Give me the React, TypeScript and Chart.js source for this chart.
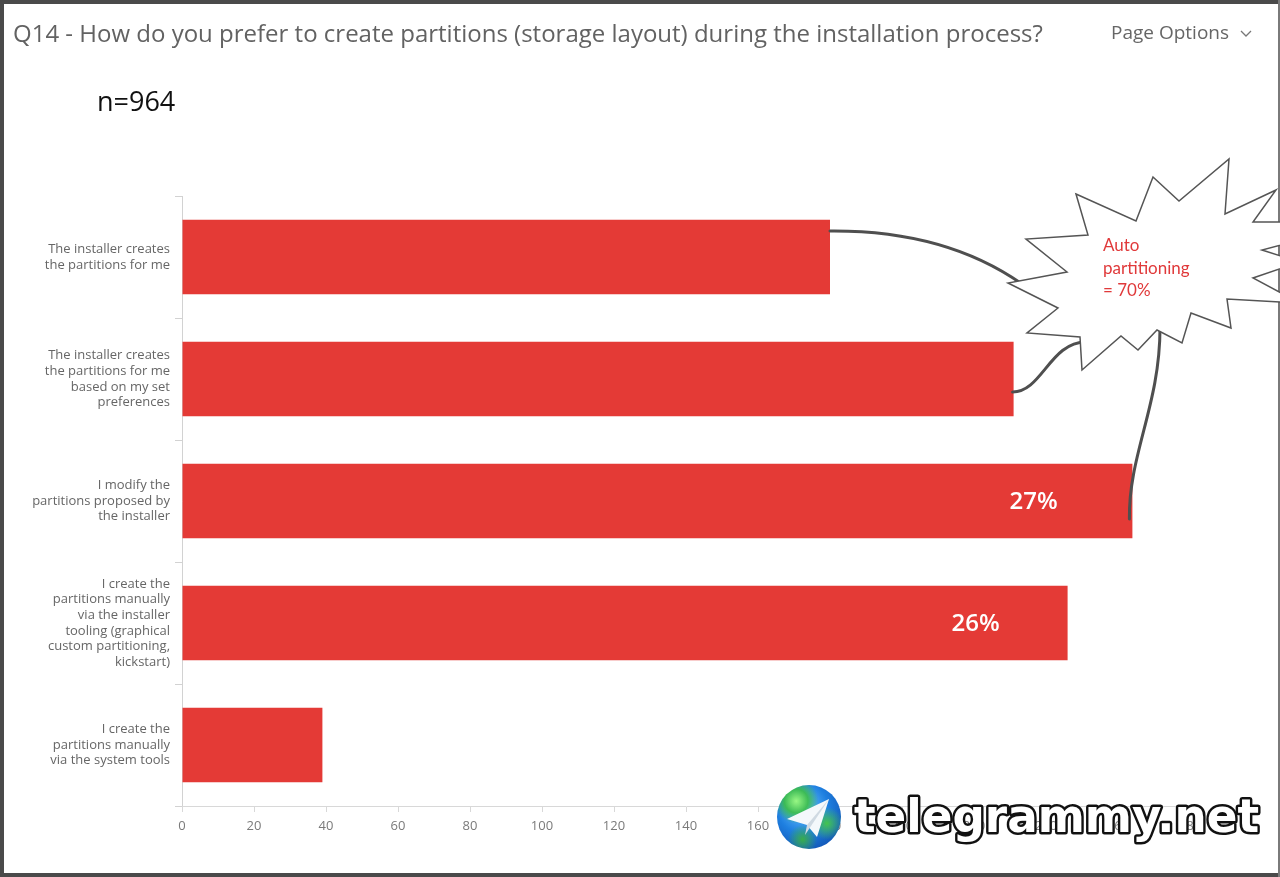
import React, { useEffect, useRef } from "react";
import { Chart, registerables } from "chart.js";

Chart.register(...registerables);

// ---- data ----
const categories: string[][] = [
  ["The installer creates", "the partitions for me"],
  ["The installer creates", "the partitions for me", "based on my set", "preferences"],
  ["I modify the", "partitions proposed by", "the installer"],
  ["I create the", "partitions manually", "via the installer", "tooling (graphical", "custom partitioning,", "kickstart)"],
  ["I create the", "partitions manually", "via the system tools"],
];
const responseCounts: number[] = [180, 231, 264, 246, 39];
const barPercentLabels: string[] = ["", "", "27%", "26%", ""];
const xAxisMax = 280;
const xAxisStep = 20;
const titleText = "Q14 - How do you prefer to create partitions (storage layout) during the installation process?";
const sampleSizeText = "n=964";
const calloutLines: string[] = ["Auto", "partitioning", "= 70%"];
const pageOptionsText = "Page Options";
const watermarkText = "telegrammy.net";

// ---- decoration geometry (annotation, not data) ----
const starOutline: [number, number][] = [
  [1076, 194], [1136, 221], [1153, 177], [1179, 201], [1229, 159], [1225, 214],
  [1276, 190], [1253, 222], [1300, 222], [1300, 240], [1262, 250], [1300, 262],
  [1253, 278], [1300, 303], [1227, 299], [1231, 328], [1191, 313], [1182, 343],
  [1157, 330], [1138, 350], [1121, 336], [1082, 370], [1080, 337], [1027, 333],
  [1058, 308], [1008, 283], [1067, 272], [1026, 239], [1088, 235],
];

const overlayPlugin = {
  id: "overlayPlugin",
  afterDraw(chart: any) {
    const ctx: CanvasRenderingContext2D = chart.ctx;
    const meta = chart.getDatasetMeta(0);
    const bars = meta.data.map((b: any) => b.getProps(["x", "y", "base"], true));

    ctx.save();
    // percentage labels inside bars
    ctx.fillStyle = "#ffffff";
    ctx.font = '600 24px "Open Sans"';
    ctx.textAlign = "center";
    ctx.textBaseline = "middle";
    bars.forEach((b: any, i: number) => {
      const t = barPercentLabels[i];
      if (!t) return;
      ctx.fillText(t, b.base + (b.x - b.base) * 0.896, b.y + 1);
    });

    // connector curves
    ctx.strokeStyle = "#4f4f4f";
    ctx.lineWidth = 3;
    ctx.lineCap = "round";
    const b0 = bars[0], b1 = bars[1], b2 = bars[2];
    ctx.beginPath();
    ctx.moveTo(b0.x, b0.y - 26);
    ctx.quadraticCurveTo(945, b0.y - 27, 1022, 284);
    ctx.stroke();

    ctx.beginPath();
    ctx.moveTo(b1.x - 1, b1.y + 13);
    ctx.bezierCurveTo(1042, b1.y + 13, 1050, 342, 1086, 342);
    ctx.stroke();

    ctx.beginPath();
    ctx.moveTo(b2.x - 3, b2.y + 18);
    ctx.bezierCurveTo(b2.x - 4, 455, 1160, 405, 1160, 328);
    ctx.stroke();

    // star burst callout
    ctx.beginPath();
    starOutline.forEach(([px, py], i) => (i === 0 ? ctx.moveTo(px, py) : ctx.lineTo(px, py)));
    ctx.closePath();
    ctx.fillStyle = "#ffffff";
    ctx.fill();
    ctx.strokeStyle = "#555555";
    ctx.lineWidth = 1.5;
    ctx.lineCap = "butt";
    ctx.lineJoin = "miter";
    ctx.stroke();
    ctx.restore();
  },
};

function BarChart() {
  const ref = useRef<HTMLCanvasElement | null>(null);
  useEffect(() => {
    if (!ref.current) return;
    const chart = new Chart(ref.current, {
      type: "bar",
      data: {
        labels: categories,
        datasets: [
          {
            data: responseCounts,
            backgroundColor: "#e43a36",
            borderWidth: 0,
            categoryPercentage: 1,
            barPercentage: 0.61,
          },
        ],
      },
      options: {
        indexAxis: "y",
        responsive: false,
        animation: false,
        devicePixelRatio: 1,
        layout: { padding: { left: 0, top: 196, right: 90, bottom: 0 } },
        plugins: { legend: { display: false }, tooltip: { enabled: false }, title: { display: false } },
        scales: {
          y: {
            type: "category",
            offset: true,
            afterFit: (s: any) => {
              s.width = 182;
            },
            grid: {
              display: true,
              drawOnChartArea: false,
              drawTicks: true,
              tickLength: 7,
              color: "#d2d2d2",
              offset: true,
            },
            border: { display: true, color: "#d2d2d2", width: 1 },
            ticks: {
              color: "#666666",
              padding: 5,
              font: { family: '"Open Sans"', size: 13, lineHeight: 1.2 },
            },
          },
          x: {
            type: "linear",
            min: 0,
            max: xAxisMax,
            afterFit: (s: any) => {
              s.height = 71;
            },
            grid: {
              display: true,
              drawOnChartArea: false,
              drawTicks: true,
              tickLength: 6,
              color: "#d8d8d8",
            },
            border: { display: true, color: "#d8d8d8", width: 1 },
            ticks: {
              stepSize: xAxisStep,
              color: "#7a7a7a",
              padding: 6,
              font: { family: '"Open Sans"', size: 13 },
            },
          },
        },
      },
      plugins: [overlayPlugin],
    } as any);
    return () => chart.destroy();
  }, []);
  return (
    <canvas
      ref={ref}
      width={1280}
      height={877}
      style={{ position: "absolute", left: 0, top: 0, width: 1280, height: 877, zIndex: 1 }}
    />
  );
}

export default function App() {
  return (
    <div
      style={{
        position: "absolute",
        left: 0,
        top: 0,
        width: 1280,
        height: 877,
        overflow: "hidden",
        background: "#ffffff",
        fontFamily: '"Open Sans", sans-serif',
      }}
    >
      {/* frame */}
      <div style={{ position: "absolute", left: 0, top: 0, width: 1280, height: 4, background: "#4a4a4a", zIndex: 0 }} />
      <div style={{ position: "absolute", left: 0, top: 0, width: 4, height: 877, background: "#4a4a4a", zIndex: 0 }} />
      <div style={{ position: "absolute", left: 0, top: 873, width: 1280, height: 4, background: "#4a4a4a", zIndex: 0 }} />
      <div style={{ position: "absolute", left: 1278, top: 0, width: 2, height: 877, background: "#7a7a7a", zIndex: 0 }} />

      <BarChart />

      {/* title */}
      <div
        style={{
          position: "absolute",
          left: 13,
          top: 18,
          fontSize: 24,
          lineHeight: "30px",
          color: "#626262",
          whiteSpace: "nowrap",
          zIndex: 2,
        }}
      >
        {titleText}
      </div>
      <div
        style={{
          position: "absolute",
          left: 1111,
          top: 20,
          fontSize: 19,
          lineHeight: "25px",
          color: "#666666",
          whiteSpace: "nowrap",
          zIndex: 2,
        }}
      >
        {pageOptionsText}
      </div>
      <svg style={{ position: "absolute", left: 1240, top: 30, zIndex: 2 }} width={12} height={8}>
        <polyline points="1,1 6,6 11,1" fill="none" stroke="#777" strokeWidth={1.3} />
      </svg>
      <div
        style={{
          position: "absolute",
          left: 97,
          top: 84,
          fontSize: 27,
          lineHeight: "34px",
          color: "#111111",
          whiteSpace: "nowrap",
          zIndex: 2,
        }}
      >
        {sampleSizeText}
      </div>

      {/* callout text */}
      <div
        style={{
          position: "absolute",
          left: 1103,
          top: 234,
          fontFamily: "Lato, sans-serif",
          fontSize: 17,
          lineHeight: "22.5px",
          color: "#e0393a",
          whiteSpace: "nowrap",
          zIndex: 2,
        }}
      >
        {calloutLines.map((l, i) => (
          <div key={i}>{l}</div>
        ))}
      </div>

      {/* watermark */}
      <div
        style={{
          position: "absolute",
          left: 777,
          top: 785,
          width: 64,
          height: 64,
          borderRadius: "50%",
          overflow: "hidden",
          zIndex: 3,
          background:
            "radial-gradient(circle at 30% 25%, rgba(160,255,120,0.9) 0%, rgba(60,190,70,0.9) 18%, rgba(60,190,70,0) 34%)," +
            "radial-gradient(circle at 78% 60%, rgba(70,200,70,0.95) 0%, rgba(70,200,70,0) 26%)," +
            "radial-gradient(circle at 40% 85%, rgba(60,180,60,0.9) 0%, rgba(60,180,60,0) 22%)," +
            "radial-gradient(circle at 40% 35%, #6fc8ff 0%, #1e7fe0 45%, #0c3f9e 100%)",
        }}
      >
        <svg width={64} height={64} style={{ position: "absolute", left: 0, top: 0 }}>
          <polygon points="10,34 52,14 40,52 30,40" fill="#f4f8fb" />
          <polygon points="30,40 52,14 28,50" fill="#cfd9e2" />
        </svg>
      </div>
      <svg style={{ position: "absolute", left: 840, top: 780, zIndex: 3 }} width={440} height={70}>
        <text
          x={14}
          y={52}
          textLength={405}
          lengthAdjust="spacingAndGlyphs"
          fontFamily='"DejaVu Sans", sans-serif'
          fontWeight="bold"
          fontSize={46}
          fill="#ffffff"
          stroke="#111111"
          strokeWidth={5}
          strokeLinejoin="round"
          paintOrder="stroke"
        >
          {watermarkText}
        </text>
      </svg>
    </div>
  );
}
